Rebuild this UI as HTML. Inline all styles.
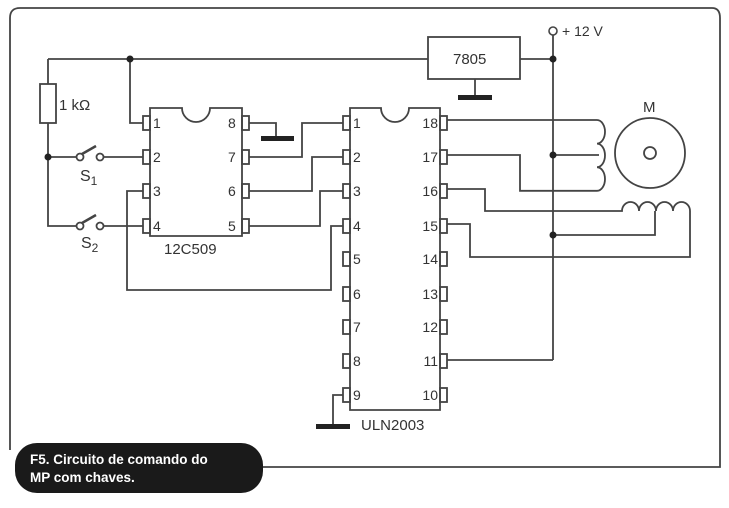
<!DOCTYPE html>
<html><head><style>
body{margin:0;background:#fff;width:729px;height:503px;overflow:hidden}
svg text{font-family:"Liberation Sans",sans-serif;fill:#333}
</style></head><body>
<svg width="729" height="503" viewBox="0 0 729 503" xmlns="http://www.w3.org/2000/svg">
<g fill="none" stroke="#444" stroke-width="1.8">
<path d="M10 450 V18 Q10 8 20 8 H712 Q720 8 720 18 V467 H262"/>
<path d="M48 59 H428 M520 59 H553"/>
<rect x="428" y="37" width="92" height="42"/>
<path d="M475 79 V96"/>
<path d="M553 35 V360"/>
<rect x="40" y="84" width="16" height="39"/>
<path d="M48 59 V84 M48 123 V226 H77 M48 157 H77"/>
<circle cx="80" cy="157" r="3.5"/><circle cx="100" cy="157" r="3.5"/>
<circle cx="80" cy="226" r="3.5"/><circle cx="100" cy="226" r="3.5"/>
<path d="M82 154 L96 146 M82 223 L96 215" stroke-width="2.5"/>
<path d="M104 157 H143 M104 226 H143"/>
<path d="M130 59 V123 H143"/>
<path d="M150 108 H182 A14 14 0 0 0 210 108 H242 V236 H150 Z"/>
<g>
<rect x="143" y="116" width="7" height="14"/><rect x="143" y="150" width="7" height="14"/>
<rect x="143" y="184" width="7" height="14"/><rect x="143" y="219" width="7" height="14"/>
<rect x="242" y="116" width="7" height="14"/><rect x="242" y="150" width="7" height="14"/>
<rect x="242" y="184" width="7" height="14"/><rect x="242" y="219" width="7" height="14"/>
</g>
<path d="M249 123 H276 V138"/>
<path d="M249 157 H302 V123 H343"/>
<path d="M249 191 H312 V157 H343"/>
<path d="M249 226 H320 V191 H343"/>
<path d="M143 191 H127 V290 H331 V226 H343"/>
<path d="M350 108 H381 A14 14 0 0 0 409 108 H440 V410 H350 Z"/>
<g>
<rect x="343" y="116" width="7" height="14"/><rect x="343" y="150" width="7" height="14"/>
<rect x="343" y="184" width="7" height="14"/><rect x="343" y="219" width="7" height="14"/>
<rect x="343" y="252" width="7" height="14"/><rect x="343" y="287" width="7" height="14"/>
<rect x="343" y="320" width="7" height="14"/><rect x="343" y="354" width="7" height="14"/>
<rect x="343" y="388" width="7" height="14"/>
<rect x="440" y="116" width="7" height="14"/><rect x="440" y="150" width="7" height="14"/>
<rect x="440" y="184" width="7" height="14"/><rect x="440" y="219" width="7" height="14"/>
<rect x="440" y="252" width="7" height="14"/><rect x="440" y="287" width="7" height="14"/>
<rect x="440" y="320" width="7" height="14"/><rect x="440" y="354" width="7" height="14"/>
<rect x="440" y="388" width="7" height="14"/>
</g>
<path d="M343 395 H333 V426"/>
<path d="M447 360 H553"/>
<path d="M447 120 H597 A8 11.8 0 0 1 597 143.6 A8 11.8 0 0 1 597 167.2 A8 11.8 0 0 1 597 190.8"/>
<path d="M553 155 H599"/>
<path d="M447 155 H520 V190.8 H597"/>
<circle cx="650" cy="153" r="35"/><circle cx="650" cy="153" r="6"/>
<path d="M447 189 H485 V211 H622 A8.5 9 0 0 1 639 211 A8.5 9 0 0 1 656 211 A8.5 9 0 0 1 673 211 A8.5 9 0 0 1 690 211 V257 H470 V224 H447"/>
<path d="M655 211 V235 H553"/>
</g>
<circle cx="553" cy="31" r="4" fill="#fff" stroke="#444" stroke-width="1.6"/>
<g fill="#222">
<circle cx="130" cy="59" r="3.5"/><circle cx="48" cy="157" r="3.5"/>
<circle cx="553" cy="59" r="3.5"/><circle cx="553" cy="155" r="3.5"/><circle cx="553" cy="235" r="3.5"/>
<rect x="458" y="95" width="34" height="5"/>
<rect x="261" y="136" width="33" height="5"/>
<rect x="316" y="424" width="34" height="5"/>
</g>
<g font-size="14">
<text x="562" y="36">+ 12 V</text>
<text x="453" y="64" font-size="15">7805</text>
<text x="59" y="110" font-size="15">1 kΩ</text>
<text x="80" y="181" font-size="16">S<tspan font-size="12" dy="4">1</tspan></text>
<text x="81" y="248" font-size="16">S<tspan font-size="12" dy="4">2</tspan></text>
<text x="643" y="112" font-size="15">M</text>
<text x="153" y="128">1</text><text x="153" y="162">2</text><text x="153" y="196">3</text><text x="153" y="231">4</text>
<text x="228" y="128">8</text><text x="228" y="162">7</text><text x="228" y="196">6</text><text x="228" y="231">5</text>
<text x="164" y="254" font-size="15">12C509</text>
<text x="353" y="128">1</text><text x="353" y="162">2</text><text x="353" y="196">3</text><text x="353" y="231">4</text>
<text x="353" y="264">5</text><text x="353" y="299">6</text><text x="353" y="332">7</text><text x="353" y="366">8</text><text x="353" y="400">9</text>
<g text-anchor="end">
<text x="438" y="128">18</text><text x="438" y="162">17</text><text x="438" y="196">16</text><text x="438" y="231">15</text>
<text x="438" y="264">14</text><text x="438" y="299">13</text><text x="438" y="332">12</text><text x="438" y="366">11</text><text x="438" y="400">10</text>
</g>
<text x="361" y="430" font-size="15">ULN2003</text>
</g>
<rect x="15" y="443" width="248" height="50" rx="22" fill="#1a1a1a"/>
<text x="30" y="464" font-size="13.5" font-weight="bold" style="fill:#fff">F5. Circuito de comando do</text>
<text x="30" y="482" font-size="13.5" font-weight="bold" style="fill:#fff">MP com chaves.</text>
</svg>
</body></html>
